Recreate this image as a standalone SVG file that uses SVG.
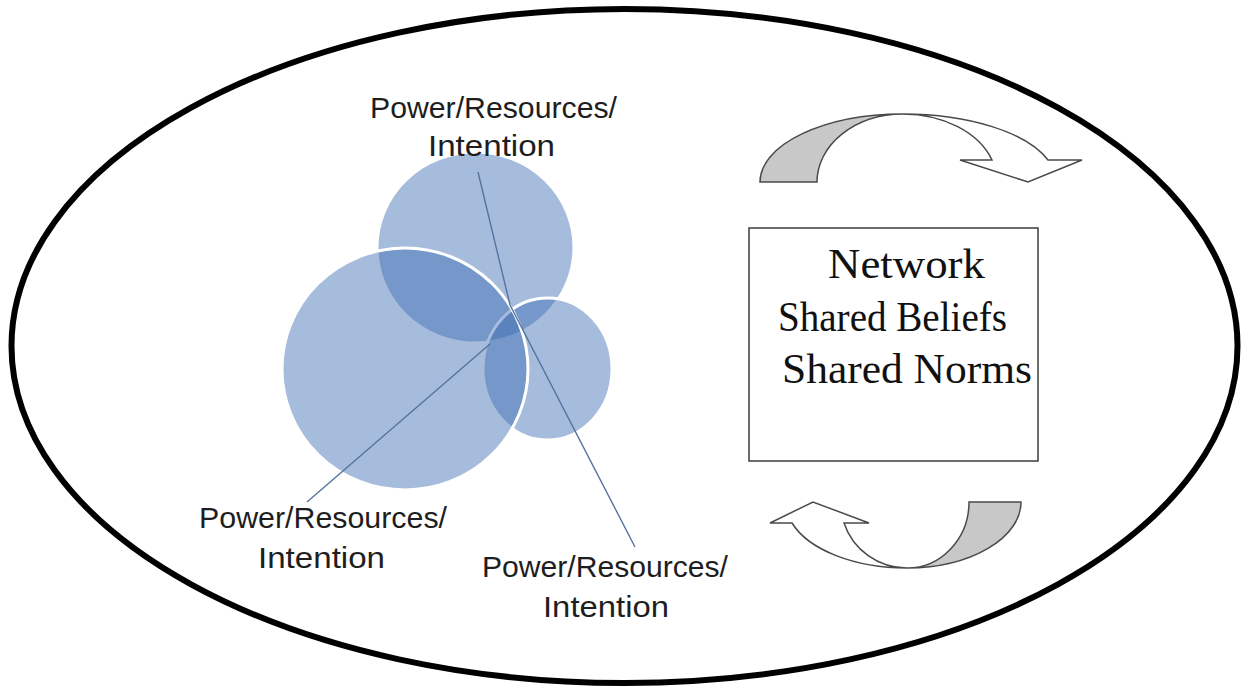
<svg xmlns="http://www.w3.org/2000/svg" width="1246" height="691" viewBox="0 0 1246 691">
  <style>
    .lbl { font-family: "Liberation Sans", Arial, sans-serif; font-size: 30px; fill: #1e1e1e; }
    .box { font-family: "Liberation Serif", "Times New Roman", serif; font-size: 43px; fill: #111; }
    .circ { fill: #3a6bb2; fill-opacity: 0.45; stroke: #ffffff; stroke-width: 3; }
    .conn { stroke: #56739f; stroke-width: 1.4; fill: none; }
    .arrowGray { fill: #c8c8c8; stroke: #4a4a4a; stroke-width: 1.5; stroke-linejoin: miter; }
    .arrowWhite { fill: #ffffff; stroke: #4a4a4a; stroke-width: 1.5; stroke-linejoin: miter; }
  </style>

  <rect x="0" y="0" width="1246" height="691" fill="#ffffff"/>

  <g id="outer-ellipse">
    <ellipse cx="624.5" cy="346" rx="613" ry="337" fill="none" stroke="#000000" stroke-width="6"/>
  </g>

  <g id="circle-top">
    <ellipse class="circ" cx="475.5" cy="247.5" rx="98.5" ry="95.5" stroke="none"/>
  </g>
  <g id="circle-small">
    <ellipse class="circ" cx="547.5" cy="369" rx="64.5" ry="71"/>
  </g>
  <g id="circle-big">
    <ellipse class="circ" cx="405" cy="369" rx="123" ry="121"/>
  </g>

  <g id="connectors">
    <polyline class="conn" points="478,172 510,305 635,547"/>
    <line class="conn" x1="490" y1="344" x2="307" y2="502"/>
  </g>

  <g id="label-top">
    <text class="lbl" x="370" y="118" textLength="247" lengthAdjust="spacingAndGlyphs">Power/Resources/</text>
    <text class="lbl" x="428" y="156" textLength="127" lengthAdjust="spacingAndGlyphs">Intention</text>
  </g>
  <g id="label-left">
    <text class="lbl" x="199" y="528" textLength="248" lengthAdjust="spacingAndGlyphs">Power/Resources/</text>
    <text class="lbl" x="258" y="568" textLength="127" lengthAdjust="spacingAndGlyphs">Intention</text>
  </g>
  <g id="label-right">
    <text class="lbl" x="482" y="577" textLength="246" lengthAdjust="spacingAndGlyphs">Power/Resources/</text>
    <text class="lbl" x="543" y="617" textLength="126" lengthAdjust="spacingAndGlyphs">Intention</text>
  </g>

  <g id="network-box">
    <rect x="749" y="228" width="289" height="233" fill="#ffffff" stroke="#3c3c3c" stroke-width="1.5"/>
    <text class="box" x="828" y="278" textLength="157" lengthAdjust="spacingAndGlyphs">Network</text>
    <text class="box" x="778" y="331" textLength="229" lengthAdjust="spacingAndGlyphs">Shared Beliefs</text>
    <text class="box" x="782" y="383" textLength="250" lengthAdjust="spacingAndGlyphs">Shared Norms</text>
  </g>

  <g id="arrow-top">
    <path class="arrowGray" d="M760,182 A143,68 0 0 1 903,114 A86,68 0 0 0 817,182 Z"/>
    <path class="arrowWhite" d="M903,114 A153,68 0 0 1 1048,160 L1082,160 L1028,182 L960,160 L992,160 A94,68 0 0 0 903,114 Z"/>
  </g>

  <g id="arrow-bottom">
    <path class="arrowGray" d="M969,502 L1021,502 A114,66 0 0 1 907,568 A62,66 0 0 0 969,502 Z"/>
    <path class="arrowWhite" d="M907,568 A121,66 0 0 1 792,523 L770,523 L813,502 L869,523 L844,523 A66,66 0 0 0 907,568 Z"/>
  </g>
</svg>
